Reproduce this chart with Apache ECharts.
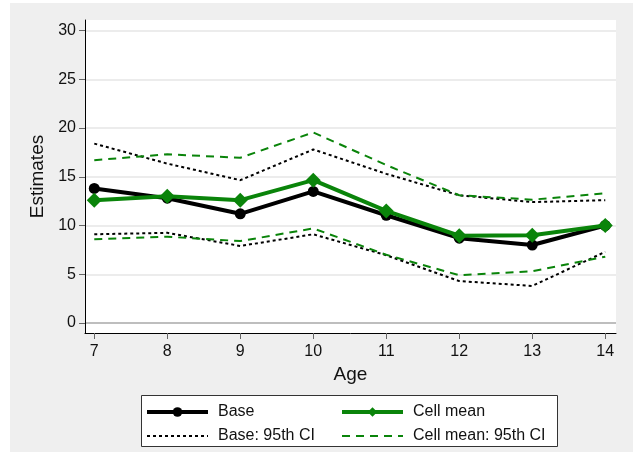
<!DOCTYPE html>
<html>
<head>
<meta charset="utf-8">
<script src="https://cdn.jsdelivr.net/npm/echarts@6/dist/echarts.min.js"></script>
<style>
  html, body { margin: 0; padding: 0; background: #fff; }
  #chart { width: 639px; height: 452px; }
</style>
</head>
<body>
<div id="chart"></div>
<script>
// Estimates by age, with 95% confidence bands
const ages = [7, 8, 9, 10, 11, 12, 13, 14];
const baseEst = [13.8, 12.8, 11.2, 13.5, 11.05, 8.7, 8.0, 10.0];
const cellMeanEst = [12.6, 13.0, 12.6, 14.65, 11.5, 8.95, 9.0, 10.0];
const baseUpper = [18.4, 16.35, 14.65, 17.8, 15.3, 13.1, 12.4, 12.6];
const baseLower = [9.1, 9.25, 7.9, 9.1, 6.95, 4.3, 3.8, 7.3];
const cellUpper = [16.7, 17.3, 16.95, 19.55, 16.2, 13.1, 12.65, 13.3];
const cellLower = [8.6, 8.85, 8.4, 9.7, 7.0, 4.9, 5.3, 6.8];
const yTicks = [0, 5, 10, 15, 20, 25, 30];

const FONT = 'Arial, "Liberation Sans", Helvetica, sans-serif';
const GREEN = '#0a840a';
const DOTS = [3, 3];
const DASHES = [8, 6];

const pairs = (ys) => ages.map((a, i) => [a, ys[i]]);

const chart = echarts.init(document.getElementById('chart'), null, { renderer: 'canvas' });

const ciLine = (name, ys, color, dash) => ({
  name, type: 'line', data: pairs(ys), symbol: 'none', silent: true,
  lineStyle: { color, width: 2, type: dash },
  itemStyle: { color },
  z: 3
});

// legend entries for the interval lines show the line only
const legendText = { fontSize: 16, color: '#111', fontFamily: FONT, padding: [0, 0, 0, 5] };
const lineOnly = (name) => ({ name, itemStyle: { opacity: 0 } });

const option = {
  backgroundColor: '#efefef',
  animation: false,
  textStyle: { fontFamily: FONT },
  graphic: [
    { type: 'rect', shape: { x: 0, y: 0, width: 10, height: 452 }, style: { fill: '#fff' }, silent: true },
    { type: 'rect', shape: { x: 0, y: 0, width: 639, height: 3 }, style: { fill: '#fff' }, silent: true },
    { type: 'rect', shape: { x: 633, y: 0, width: 6, height: 452 }, style: { fill: '#fff' }, silent: true },
    { type: 'rect', z: 1, shape: { x: 141.5, y: 395.5, width: 416, height: 51 },
      style: { fill: '#fff', stroke: '#333', lineWidth: 1 }, silent: true }
  ],
  grid: {
    left: 85, right: 23, top: 20, bottom: 119,
    show: true, backgroundColor: '#fff', borderWidth: 0
  },
  xAxis: {
    type: 'value', min: 6.873, max: 14.147,
    name: 'Age', nameLocation: 'middle', nameGap: 32,
    nameTextStyle: { fontSize: 19, color: '#111', fontFamily: FONT },
    axisLine: { show: true, onZero: false, lineStyle: { color: '#000', width: 1 } },
    axisTick: { show: true, length: 6, customValues: ages, lineStyle: { color: '#666' } },
    axisLabel: { customValues: ages, fontSize: 16, color: '#111', margin: 11, fontFamily: FONT },
    splitLine: { show: false }
  },
  yAxis: {
    type: 'value', min: -1.026, max: 31.08,
    name: 'Estimates', nameLocation: 'middle', nameGap: 37, nameRotate: 90,
    nameTextStyle: { fontSize: 19, color: '#111', fontFamily: FONT },
    axisLine: { show: true, onZero: false, lineStyle: { color: '#000', width: 1 } },
    axisTick: { show: true, length: 6, customValues: yTicks, lineStyle: { color: '#666' } },
    axisLabel: { customValues: yTicks, fontSize: 16, color: '#111', margin: 9, fontFamily: FONT },
    splitLine: { show: true, lineStyle: { color: ['#a8a8a8', '#e6e6e6', '#e6e6e6', '#e6e6e6', '#e6e6e6', '#e6e6e6', '#e6e6e6'], width: 1.5 } }
  },
  legend: [
    {
      orient: 'vertical', left: 140, top: 399, itemWidth: 61, itemHeight: 12, itemGap: 8,
      data: ['Base', lineOnly('Base: 95th CI')],
      lineStyle: { width: 'inherit' },
      textStyle: legendText,
      selectedMode: false
    },
    {
      orient: 'vertical', left: 335, top: 399, itemWidth: 61, itemHeight: 12, itemGap: 8,
      data: ['Cell mean', lineOnly('Cell mean: 95th CI')],
      lineStyle: { width: 'inherit' },
      textStyle: legendText,
      selectedMode: false
    }
  ],
  series: [
    {
      name: 'Base', type: 'line', data: pairs(baseEst),
      symbol: 'circle', symbolSize: 11,
      lineStyle: { color: '#000', width: 4 }, itemStyle: { color: '#000' }, z: 4
    },
    {
      name: 'Cell mean', type: 'line', data: pairs(cellMeanEst),
      symbol: 'diamond', symbolSize: 15,
      lineStyle: { color: GREEN, width: 4 }, itemStyle: { color: GREEN }, z: 5
    },
    ciLine('Base: 95th CI', baseUpper, '#000', DOTS),
    ciLine('Base: 95th CI', baseLower, '#000', DOTS),
    ciLine('Cell mean: 95th CI', cellUpper, GREEN, DASHES),
    ciLine('Cell mean: 95th CI', cellLower, GREEN, DASHES)
  ]
};

chart.setOption(option);
</script>
</body>
</html>
